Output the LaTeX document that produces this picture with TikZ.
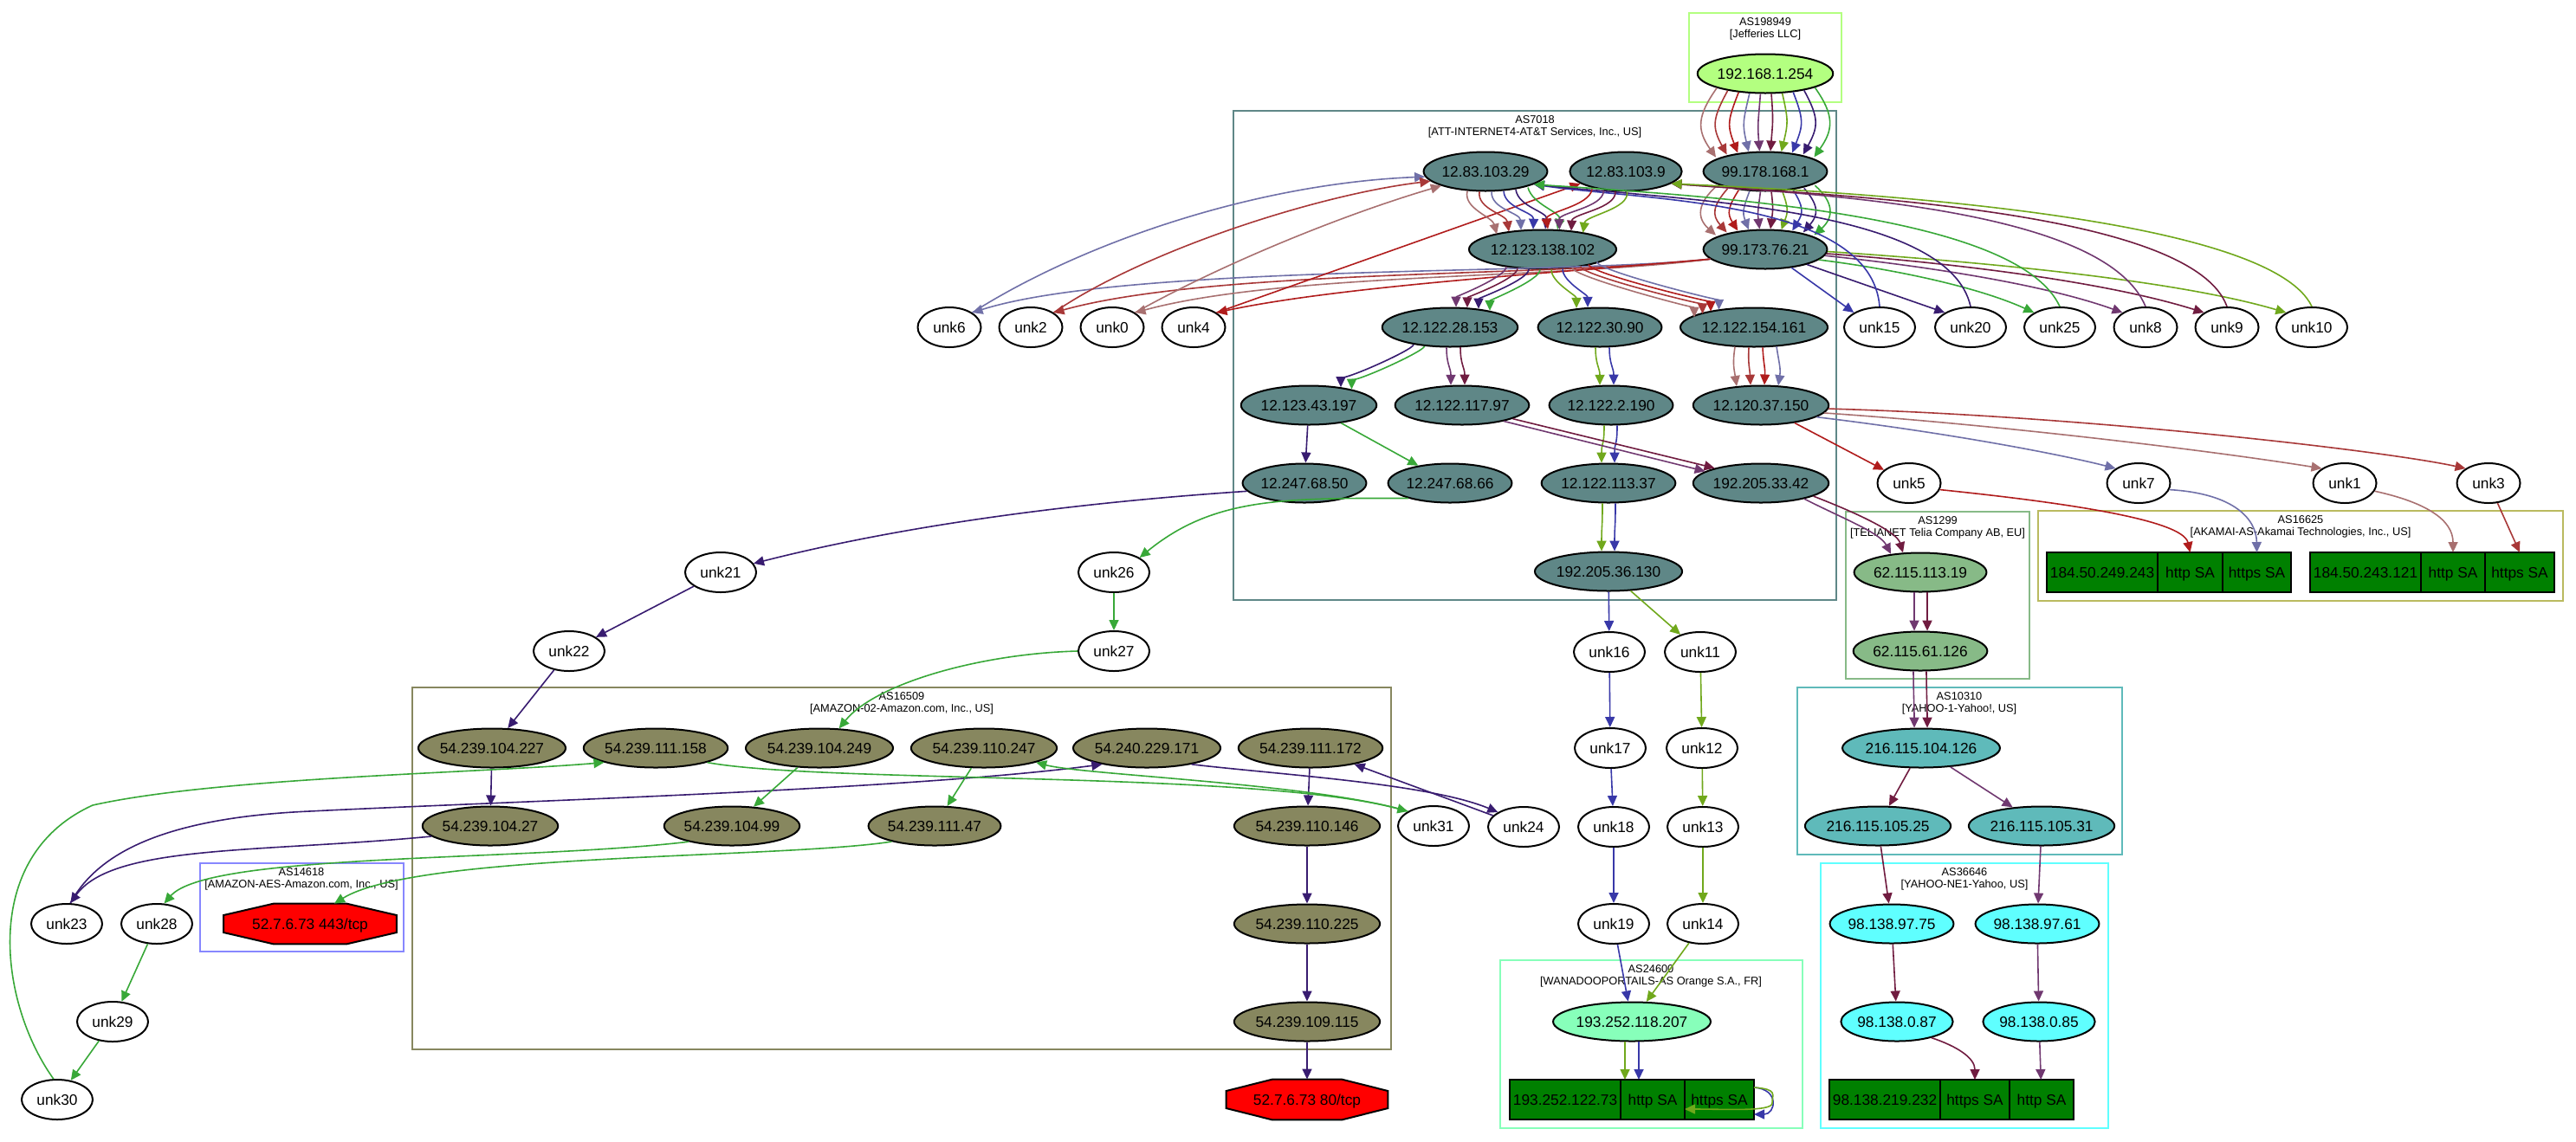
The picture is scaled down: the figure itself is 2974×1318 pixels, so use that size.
\documentclass[tikz,border=0pt]{standalone}
\usepackage{fontspec}
\setmainfont{Liberation Sans}
\usetikzlibrary{arrows.meta,positioning,calc,shapes.geometric,backgrounds}

% trace colours
\definecolor{trRose}{RGB}{168,112,112}
\definecolor{trBrick}{RGB}{168,56,56}
\definecolor{trRed}{RGB}{176,28,28}
\definecolor{trSlate}{RGB}{112,112,168}
\definecolor{trPurple}{RGB}{112,56,112}
\definecolor{trMaroon}{RGB}{112,28,64}
\definecolor{trOlive}{RGB}{112,168,28}
\definecolor{trBlue}{RGB}{56,56,168}
\definecolor{trIndigo}{RGB}{56,28,112}
\definecolor{trGreen}{RGB}{56,168,56}
% AS colours
\definecolor{asJef}{RGB}{179,255,128}
\definecolor{asAtt}{RGB}{95,135,135}
\definecolor{asTelia}{RGB}{135,186,135}
\definecolor{asAkamai}{RGB}{186,186,95}
\definecolor{asYahoo}{RGB}{95,186,186}
\definecolor{asYahooNe}{RGB}{95,255,255}
\definecolor{asOrange}{RGB}{135,255,186}
\definecolor{asAmazon}{RGB}{135,135,95}
\definecolor{asAes}{RGB}{135,135,255}
\definecolor{recGreen}{RGB}{0,128,0}

\newcommand\hopsize{\fontsize{8.65pt}{10pt}\selectfont}
\newcommand\assize{\fontsize{6.4pt}{7pt}\selectfont}

% drop of an ellipse rim below its top, for a shift d from the middle
\pgfmathdeclarefunction{rim}{1}{\pgfmathparse{22.5*(1-sqrt(max(0,1-(#1/78)^2)))}}

% parallel hops: from, to, count, first start shift, first end shift, step, bulge, colours, handle
\newcommand\tracefan[9]{%
  \foreach \col [count=\i] in {#8} {
    \pgfmathsetmacro\fanS{#4+(\i-1)*#6}
    \pgfmathsetmacro\fanE{#5+(\i-1)*#6}
    \pgfmathsetmacro\fanB{(\i-(#3+1)/2)*#7}
    \draw[trace,color=\col] ($(#1.south)+(\fanS,{-rim(\fanS)})$) .. controls +(\fanB,#9) and +(\fanB,-#9) .. ($(#2.north)+(\fanE,{rim(\fanE)})$);
  }}

\tikzset{
  hop/.style={ellipse, draw, line width=1pt, inner xsep=0pt, inner ysep=0pt, minimum height=22.5pt,
    text height=6.2pt, text depth=0pt, font=\hopsize},
  jefhop/.style={hop, fill=asJef},
  atthop/.style={hop, fill=asAtt},
  teliahop/.style={hop, fill=asTelia},
  yahoohop/.style={hop, fill=asYahoo},
  yahoonehop/.style={hop, fill=asYahooNe},
  orangehop/.style={hop, fill=asOrange},
  amazonhop/.style={hop, fill=asAmazon},
  unk/.style={hop, fill=white, minimum height=23pt, minimum width=41pt},
  cell/.style={rectangle, draw, line width=1pt, fill=recGreen, minimum height=23pt, inner sep=0pt,
    outer sep=0pt, text height=6.2pt, text depth=0pt, font=\hopsize},
  target/.style={rectangle, inner sep=0pt, minimum height=23pt, text height=6.2pt, text depth=0pt, font=\hopsize},
  octo/.style={fill=red, draw=black, line width=1pt},
  cluster/.style={line width=0.9pt},
  aslabel/.style={anchor=north, align=center, inner sep=0pt, font=\assize},
  trace/.style={line width=0.8pt, -{Triangle[length=6pt,width=5.5pt]}}
}

\begin{document}
\begin{tikzpicture}[x=0.5pt,y=-0.5pt]
\useasboundingbox (0,0) rectangle (2974,1318);

% clusters
\draw[cluster,asJef] (1950,15) rectangle (2126,118);
\node[aslabel] (lblJef) at (2038,20) {AS198949\\{[Jefferies LLC]}};
\draw[cluster,asAtt] (1424,128) rectangle (2120,693);
\node[aslabel] (lblAtt) at (1772,133) {AS7018\\{[ATT-INTERNET4-AT\&T Services, Inc., US]}};
\draw[cluster,asTelia] (2131,591) rectangle (2343,784);
\node[aslabel] (lblTelia) at (2237,596) {AS1299\\{[TELIANET Telia Company AB, EU]}};
\draw[cluster,asAkamai] (2353,590) rectangle (2959,694);
\node[aslabel] (lblAkamai) at (2656,595) {AS16625\\{[AKAMAI-AS-Akamai Technologies, Inc., US]}};
\draw[cluster,asYahoo] (2075,794) rectangle (2450,987);
\node[aslabel] (lblYahoo) at (2262,799) {AS10310\\{[YAHOO-1-Yahoo!, US]}};
\draw[cluster,asYahooNe] (2102,997) rectangle (2434,1303);
\node[aslabel] (lblYahooNe) at (2268,1002) {AS36646\\{[YAHOO-NE1-Yahoo, US]}};
\draw[cluster,asOrange] (1732,1109) rectangle (2081,1303);
\node[aslabel] (lblOrange) at (1906,1114) {AS24600\\{[WANADOOPORTAILS-AS Orange S.A., FR]}};
\draw[cluster,asAmazon] (476,794) rectangle (1606,1212);
\node[aslabel] (lblAmazon) at (1041,799) {AS16509\\{[AMAZON-02-Amazon.com, Inc., US]}};
\draw[cluster,asAes] (231,997) rectangle (466,1099);
\node[aslabel] (lblAes) at (348,1002) {AS14618\\{[AMAZON-AES-Amazon.com, Inc., US]}};

% hops
\node[jefhop] (jef) at (2038,85) {192.168.1.254};

\node[atthop] (a29) at (1715,198) {12.83.103.29};
\node[atthop] (a9) at (1877,198) {12.83.103.9};
\node[atthop] (att1) at (2038,198) {99.178.168.1};
\node[atthop] (a102) at (1781,288) {12.123.138.102};
\node[atthop] (att2) at (2038,288) {99.173.76.21};
\node[atthop] (a153) at (1674,378) {12.122.28.153};
\node[atthop] (a90) at (1847,378) {12.122.30.90};
\node[atthop] (a161) at (2025,378) {12.122.154.161};
\node[atthop] (a197) at (1511,468) {12.123.43.197};
\node[atthop] (a97) at (1688,468) {12.122.117.97};
\node[atthop] (a190) at (1860,468) {12.122.2.190};
\node[atthop] (a150) at (2033,468) {12.120.37.150};
\node[atthop] (a50) at (1506,558) {12.247.68.50};
\node[atthop] (a66) at (1674,558) {12.247.68.66};
\node[atthop] (a37) at (1857,558) {12.122.113.37};
\node[atthop] (a42) at (2033,558) {192.205.33.42};
\node[atthop] (a130) at (1857,660) {192.205.36.130};

\node[teliahop] (t19) at (2217,661) {62.115.113.19};
\node[teliahop] (t126) at (2217,752) {62.115.61.126};

\node[yahoohop] (y126) at (2218,864) {216.115.104.126};
\node[yahoohop] (y25) at (2168,954) {216.115.105.25};
\node[yahoohop] (y31) at (2357,954) {216.115.105.31};
\node[yahoonehop] (y75) at (2184,1067) {98.138.97.75};
\node[yahoonehop] (y61) at (2352,1067) {98.138.97.61};
\node[yahoonehop] (y87) at (2190,1180) {98.138.0.87};
\node[yahoonehop] (y85) at (2354,1180) {98.138.0.85};

\node[orangehop] (o207) at (1884,1180) {193.252.118.207};

\node[amazonhop] (m227) at (568,864) {54.239.104.227};
\node[amazonhop] (m158) at (757,864) {54.239.111.158};
\node[amazonhop] (m249) at (946,864) {54.239.104.249};
\node[amazonhop] (m247) at (1136,864) {54.239.110.247};
\node[amazonhop] (m171) at (1324,864) {54.240.229.171};
\node[amazonhop] (m172) at (1513,864) {54.239.111.172};
\node[amazonhop] (m27) at (566,954) {54.239.104.27};
\node[amazonhop] (m99) at (845,954) {54.239.104.99};
\node[amazonhop] (m47) at (1079,954) {54.239.111.47};
\node[amazonhop] (m146) at (1509,954) {54.239.110.146};
\node[amazonhop] (m225) at (1509,1067) {54.239.110.225};
\node[amazonhop] (m115) at (1509,1180) {54.239.109.115};

% unknown hops
\node[unk,minimum width=36.5pt] (unk6) at (1096,378) {unk6};
\node[unk,minimum width=36.5pt] (unk2) at (1190,378) {unk2};
\node[unk,minimum width=36.5pt] (unk0) at (1284,378) {unk0};
\node[unk,minimum width=36.5pt] (unk4) at (1378,378) {unk4};
\node[unk] (unk15) at (2170,378) {unk15};
\node[unk] (unk20) at (2275,378) {unk20};
\node[unk] (unk25) at (2378,378) {unk25};
\node[unk,minimum width=36.5pt] (unk8) at (2477,378) {unk8};
\node[unk,minimum width=36.5pt] (unk9) at (2571,378) {unk9};
\node[unk] (unk10) at (2669,378) {unk10};
\node[unk,minimum width=36.5pt] (unk5) at (2204,558) {unk5};
\node[unk,minimum width=36.5pt] (unk7) at (2469,558) {unk7};
\node[unk,minimum width=36.5pt] (unk1) at (2707,558) {unk1};
\node[unk,minimum width=36.5pt] (unk3) at (2873,558) {unk3};
\node[unk] (unk21) at (832,661) {unk21};
\node[unk] (unk26) at (1286,661) {unk26};
\node[unk] (unk22) at (657,752) {unk22};
\node[unk] (unk27) at (1286,752) {unk27};
\node[unk] (unk16) at (1858,753) {unk16};
\node[unk] (unk11) at (1963,753) {unk11};
\node[unk] (unk17) at (1859,864) {unk17};
\node[unk] (unk12) at (1965,864) {unk12};
\node[unk] (unk31) at (1655,954) {unk31};
\node[unk] (unk24) at (1759,955) {unk24};
\node[unk] (unk18) at (1863,955) {unk18};
\node[unk] (unk13) at (1966,955) {unk13};
\node[unk] (unk19) at (1863,1067) {unk19};
\node[unk] (unk14) at (1966,1067) {unk14};
\node[unk] (unk23) at (77,1067) {unk23};
\node[unk] (unk28) at (181,1067) {unk28};
\node[unk] (unk29) at (130,1180) {unk29};
\node[unk] (unk30) at (66,1270) {unk30};

% answering hosts
\node[cell,minimum width=64pt] (ak1ip) at (2427,661) {184.50.249.243};
\node[cell,minimum width=37.5pt,right=0pt of ak1ip] (ak1http) {http SA};
\node[cell,minimum width=39.5pt,right=0pt of ak1http] (ak1https) {https SA};
\node[cell,minimum width=64pt] (ak2ip) at (2731,661) {184.50.243.121};
\node[cell,minimum width=37pt,right=0pt of ak2ip] (ak2http) {http SA};
\node[cell,minimum width=40pt,right=0pt of ak2http] (ak2https) {https SA};
\node[cell,minimum width=64pt] (yip) at (2176,1270) {98.138.219.232};
\node[cell,minimum width=40pt,right=0pt of yip] (yhttps) {https SA};
\node[cell,minimum width=37pt,right=0pt of yhttps] (yhttp) {http SA};
\node[cell,minimum width=64pt] (orip) at (1807,1270) {193.252.122.73};
\node[cell,minimum width=37pt,right=0pt of orip] (orhttp) {http SA};
\node[cell,minimum width=40pt,right=0pt of orhttp] (orhttps) {https SA};

\node[target,minimum width=99.5pt] (t443) at (358,1067) {52.7.6.73 443/tcp};
\node[target,minimum width=93pt] (t80) at (1509,1270) {52.7.6.73 80/tcp};
\begin{scope}[on background layer]
\filldraw[octo] ($(t443.north)+(-42,0)$) -- ($(t443.north)+(42,0)$) -- ($(t443.east)+(0,-10)$) -- ($(t443.east)+(0,10)$)
  -- ($(t443.south)+(42,0)$) -- ($(t443.south)+(-42,0)$) -- ($(t443.west)+(0,10)$) -- ($(t443.west)+(0,-10)$) -- cycle;
\filldraw[octo] ($(t80.north)+(-40,0)$) -- ($(t80.north)+(40,0)$) -- ($(t80.east)+(0,-10)$) -- ($(t80.east)+(0,10)$)
  -- ($(t80.south)+(40,0)$) -- ($(t80.south)+(-40,0)$) -- ($(t80.west)+(0,10)$) -- ($(t80.west)+(0,-10)$) -- cycle;
\end{scope}

% common first hops
\tracefan{jef}{att1}{10}{-56}{-57}{12.6}{5}{trRose,trBrick,trRed,trSlate,trPurple,trMaroon,trOlive,trBlue,trIndigo,trGreen}{32}
\tracefan{att1}{att2}{10}{-56}{-57}{12.6}{5}{trRose,trBrick,trRed,trSlate,trPurple,trMaroon,trOlive,trBlue,trIndigo,trGreen}{20}

% out to the unknown hops and back
\draw[trace,color=trSlate] (att2.190) .. controls (1800,318) and (1300,305) .. (unk6.north east);
\draw[trace,color=trBrick] (att2.190) .. controls (1800,320) and (1400,310) .. (unk2.north east);
\draw[trace,color=trRose] (att2.190) .. controls (1800,322) and (1480,315) .. (unk0.north east);
\draw[trace,color=trRed] (att2.190) .. controls (1800,315) and (1550,330) .. (unk4.north east);
\draw[trace,color=trSlate] (unk6.north east) .. controls (1250,280) and (1450,212) .. (a29.185);
\draw[trace,color=trBrick] (unk2.north east) .. controls (1320,290) and (1520,225) .. (a29.190);
\draw[trace,color=trRose] (unk0.north east) .. controls (1420,300) and (1560,245) .. (a29.198);
\draw[trace,color=trRed] (unk4.north east) -- (a9.195);

\draw[trace,color=trBlue] (att2.-35) -- (unk15.north west);
\draw[trace,color=trIndigo] (att2.-20) -- (unk20.north west);
\draw[trace,color=trGreen] (att2.-11) .. controls (2180,310) and (2280,330) .. (unk25.north west);
\draw[trace,color=trPurple] (att2.-6) .. controls (2200,305) and (2350,325) .. (unk8.north west);
\draw[trace,color=trMaroon] (att2.-4) .. controls (2230,302) and (2420,322) .. (unk9.north west);
\draw[trace,color=trOlive] (att2.-2) .. controls (2250,300) and (2500,320) .. (unk10.north west);
\draw[trace,color=trBlue] (unk15.north) .. controls (2160,230) and (1900,232) .. (a29.-15);
\draw[trace,color=trIndigo] (unk20.north) .. controls (2250,240) and (1950,232) .. (a29.-15);
\draw[trace,color=trGreen] (unk25.north) .. controls (2330,250) and (2000,228) .. (a29.-15);
\draw[trace,color=trPurple] (unk8.north) .. controls (2430,240) and (2100,225) .. (a9.-15);
\draw[trace,color=trMaroon] (unk9.north) .. controls (2530,240) and (2100,225) .. (a9.-15);
\draw[trace,color=trOlive] (unk10.north) .. controls (2620,250) and (2150,222) .. (a9.-15);

% inside AS7018
\tracefan{a29}{a102}{6}{-21}{-53}{14}{2}{trRose,trBrick,trSlate,trBlue,trIndigo,trGreen}{20}
\tracefan{a9}{a102}{4}{-39}{6}{13.5}{2}{trRed,trPurple,trMaroon,trOlive}{20}
\tracefan{a102}{a153}{4}{-42}{7}{13}{0}{trPurple,trMaroon,trIndigo,trGreen}{12}
\tracefan{a102}{a90}{2}{10}{-27}{13}{0}{trOlive,trBlue}{15}
\tracefan{a102}{a161}{4}{34}{-69}{9.5}{0}{trRose,trBrick,trRed,trSlate}{10}
\tracefan{a153}{a197}{2}{-42}{37}{12.5}{0}{trIndigo,trGreen}{6}
\tracefan{a153}{a97}{2}{-4}{-13}{16}{0}{trPurple,trMaroon}{20}
\tracefan{a90}{a190}{2}{-5}{-13}{16}{0}{trOlive,trBlue}{20}
\tracefan{a161}{a150}{4}{-22}{-28}{16}{2}{trRose,trBrick,trRed,trSlate}{20}
\tracefan{a190}{a37}{2}{-8}{-8}{15}{0}{trOlive,trBlue}{25}
\tracefan{a37}{a130}{2}{-7}{-8}{15}{0}{trOlive,trBlue}{30}
\draw[trace,color=trIndigo] (a197) -- (a50);
\draw[trace,color=trGreen] (a197) -- (a66);
\draw[trace,color=trMaroon] (a97.-15) -- (a42.162);
\draw[trace,color=trPurple] (a97.-21) -- (a42.168);

% to Akamai
\draw[trace,color=trRed] (a150) -- (unk5);
\draw[trace,color=trSlate] (a150.-12) .. controls (2250,500) and (2380,525) .. (unk7.north west);
\draw[trace,color=trRose] (a150.-7) .. controls (2300,490) and (2550,520) .. (unk1.north west);
\draw[trace,color=trBrick] (a150.-3) .. controls (2400,480) and (2750,520) .. (unk3.north west);
\draw[trace,color=trRed] (unk5.-12) .. controls (2380,580) and (2520,600) .. (ak1http.north);
\draw[trace,color=trSlate] (unk7.-12) .. controls (2580,570) and (2605,600) .. (ak1https.north);
\draw[trace,color=trRose] (unk1.-15) .. controls (2800,580) and (2832,600) .. (ak2http.north);
\draw[trace,color=trBrick] (unk3) -- (ak2https.north);

% to Yahoo
\draw[trace,color=trPurple] (a42.-20) .. controls (2130,600) and (2170,615) .. ($(t19.north)+(-34,{rim(-34)})$);
\draw[trace,color=trMaroon] (a42.-14) .. controls (2150,595) and (2190,615) .. ($(t19.north)+(-20,{rim(-20)})$);
\tracefan{t19}{t126}{2}{-7}{-7}{15}{0}{trPurple,trMaroon}{20}
\tracefan{t126}{y126}{2}{-8}{-8}{15}{0}{trPurple,trMaroon}{20}
\draw[trace,color=trMaroon] (y126) -- (y25);
\draw[trace,color=trPurple] (y126) -- (y31);
\draw[trace,color=trMaroon] (y25) -- (y75);
\draw[trace,color=trMaroon] (y75) -- (y87);
\draw[trace,color=trMaroon] (y87.-25) .. controls +(30,10) and +(0,-25) .. (yhttps.north);
\draw[trace,color=trPurple] (y31) -- (y61);
\draw[trace,color=trPurple] (y61) -- (y85);
\draw[trace,color=trPurple] (y85) -- (yhttp);

% to Orange
\draw[trace,color=trBlue] (a130) -- (unk16);
\draw[trace,color=trOlive] (a130) -- (unk11);
\draw[trace,color=trBlue] (unk16) -- (unk17);
\draw[trace,color=trBlue] (unk17) -- (unk18);
\draw[trace,color=trBlue] (unk18) -- (unk19);
\draw[trace,color=trBlue] (unk19) -- (o207);
\draw[trace,color=trOlive] (unk11) -- (unk12);
\draw[trace,color=trOlive] (unk12) -- (unk13);
\draw[trace,color=trOlive] (unk13) -- (unk14);
\draw[trace,color=trOlive] (unk14) -- (o207);
\draw[trace,color=trOlive] ($(o207.south)+(-8,{-rim(-8)})$) -- ($(orhttp.north)+(-32,0)$);
\draw[trace,color=trBlue] ($(o207.south)+(8,{-rim(8)})$) -- ($(orhttp.north)+(-16,0)$);
\draw[trace,color=trBlue] ($(orhttps.east)+(0,-14)$) .. controls +(30,2) and +(25,0) .. ($(orhttps.east)+(0,17)$);
\draw[trace,color=trOlive] ($(orhttps.east)+(0,-14)$) .. controls +(28,2) and +(0,-10) .. ($(orhttps.east)+(21,4)$)
  .. controls +(0,10) and +(50,0) .. ($(orhttps.west)+(0,11)$);

% to Amazon, indigo trace
\draw[trace,color=trIndigo] (a50.188) .. controls (1250,580) and (1050,605) .. (unk21.15);
\draw[trace,color=trIndigo] (unk21) -- (unk22);
\draw[trace,color=trIndigo] (unk22) -- (m227);
\draw[trace,color=trIndigo] (m227) -- (m27);
\draw[trace,color=trIndigo] (m27.190) .. controls (300,985) and (130,975) .. (unk23.80);
\draw[trace,color=trIndigo] (unk23.80) .. controls (110,990) and (180,945) .. (357,937)
  .. controls (600,925) and (1050,912) .. (m171.200);
\draw[trace,color=trIndigo] (m171.-20) .. controls (1480,895) and (1650,905) .. (unk24.north west);
\draw[trace,color=trIndigo] (unk24) -- (m172);
\draw[trace,color=trIndigo] (m172) -- (m146);
\draw[trace,color=trIndigo] (m146) -- (m225);
\draw[trace,color=trIndigo] (m225) -- (m115);
\draw[trace,color=trIndigo] (m115) -- (t80);

% to Amazon, green trace
\draw[trace,color=trGreen] (a66.200) .. controls (1480,575) and (1400,575) .. (unk26.north east);
\draw[trace,color=trGreen] (unk26) -- (unk27);
\draw[trace,color=trGreen] (unk27.west) .. controls (1130,755) and (1010,790) .. (m249.45);
\draw[trace,color=trGreen] (m249) -- (m99);
\draw[trace,color=trGreen] (m99.200) .. controls (600,995) and (240,985) .. (unk28.70);
\draw[trace,color=trGreen] (unk28) -- (unk29);
\draw[trace,color=trGreen] (unk29) -- (unk30);
\draw[trace,color=trGreen] (unk30.100) .. controls (0,1160) and (-25,990) .. (107,930)
  .. controls (250,898) and (550,893) .. (m158.south west);
\draw[trace,color=trGreen] (m158.south east) .. controls (950,905) and (1450,890) .. (unk31.north west);
\draw[trace,color=trGreen] (unk31.north west) .. controls (1520,905) and (1250,895) .. (m247.south east);
\draw[trace,color=trGreen] (m247) -- (m47);
\draw[trace,color=trGreen] (m47.200) .. controls (900,992) and (480,985) .. ($(t443.north)+(28,0)$);

\end{tikzpicture}
\end{document}
